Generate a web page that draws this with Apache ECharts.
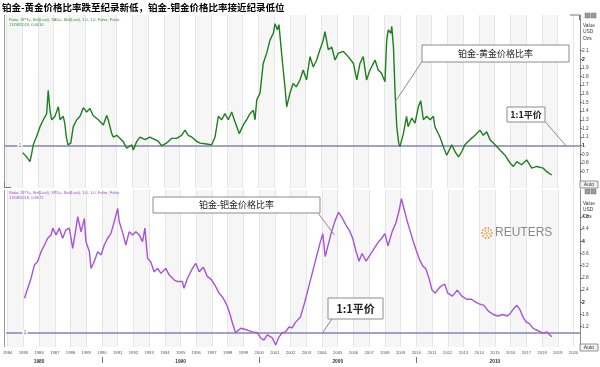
<!DOCTYPE html>
<html><head><meta charset="utf-8">
<script src="https://cdn.jsdelivr.net/npm/echarts@6/dist/echarts.min.js"></script>
<style>html,body{margin:0;padding:0;background:#fff}#c{width:600px;height:367px}</style>
</head><body><div id="c"></div>
<script>
// ---------- data ----------
const ptAuYears = [1985.03,1985.28,1985.49,1985.6,1985.7,1985.9,1986.13,1986.34,1986.55,1986.65,1986.76,1986.87,1987.08,1987.29,1987.4,1987.6,1987.7,1987.8,1987.9,1988.08,1988.24,1988.46,1988.67,1988.88,1989.09,1989.3,1989.5,1989.83,1990.15,1990.36,1990.46,1990.68,1990.78,1991.0,1991.2,1991.4,1991.63,1991.95,1992.05,1992.27,1992.48,1992.8,1993.1,1993.43,1993.64,1993.85,1994.17,1994.49,1994.8,1995.12,1995.33,1995.54,1995.76,1996.08,1996.29,1996.71,1997.03,1997.24,1997.45,1997.66,1997.87,1998.08,1998.3,1998.5,1998.78,1999.03,1999.25,1999.46,1999.67,1999.78,1999.89,2000.1,2000.3,2000.52,2000.73,2000.94,2001.05,2001.2,2001.3,2001.41,2001.57,2001.68,2001.79,2002.0,2002.2,2002.4,2002.63,2002.84,2003.05,2003.27,2003.48,2003.69,2003.9,2004.11,2004.22,2004.43,2004.65,2004.86,2005.07,2005.39,2005.7,2006.03,2006.24,2006.44,2006.65,2006.86,2007.08,2007.4,2007.6,2007.8,2008.03,2008.14,2008.24,2008.4,2008.46,2008.57,2008.67,2008.78,2008.9,2008.98,2009.2,2009.4,2009.5,2009.73,2009.94,2010.15,2010.3,2010.47,2010.68,2010.9,2011.1,2011.2,2011.52,2011.73,2011.95,2012.27,2012.48,2012.7,2012.9,2013.1,2013.43,2013.75,2014.06,2014.27,2014.49,2014.7,2015.02,2015.33,2015.65,2015.97,2016.18,2016.4,2016.7,2017.03,2017.35,2017.66,2018.08,2018.3,2018.62];
const ptAuValues = [0.92,0.87,0.815,0.91,1.01,1.10,1.22,1.30,1.37,1.64,1.41,1.30,1.34,1.45,1.30,1.34,1.26,1.10,1.01,1.03,1.22,1.30,1.34,1.44,1.39,1.43,1.35,1.30,1.24,1.35,1.30,1.14,1.10,1.12,1.085,1.05,0.97,1.01,0.95,1.05,1.10,1.07,1.10,1.07,1.05,1.00,1.03,1.085,1.085,1.12,1.18,1.12,1.10,1.05,1.03,1.02,1.01,1.10,1.34,1.30,1.37,1.30,1.39,1.28,1.14,1.24,1.30,1.37,1.41,1.30,1.53,1.61,1.95,2.07,2.22,2.30,2.41,2.34,2.40,2.18,1.875,1.68,1.45,1.61,1.72,1.68,1.76,1.875,1.76,2.03,1.91,1.99,2.11,2.22,2.32,2.11,2.14,1.99,2.07,2.09,2.03,1.95,1.76,1.95,2.03,1.76,1.875,1.99,1.875,1.84,1.74,2.22,2.34,2.30,2.38,2.14,1.62,1.22,1.03,0.99,1.14,1.34,1.22,1.32,1.26,1.45,1.52,1.30,1.34,1.30,1.34,1.22,1.10,0.99,0.89,1.01,0.93,0.87,0.93,1.01,1.07,1.12,1.18,1.12,1.16,1.07,1.01,0.95,0.89,0.80,0.76,0.815,0.78,0.835,0.74,0.76,0.74,0.70,0.6610];

const ptPdYears = [1985.07,1985.28,1985.49,1985.7,1985.9,1986.13,1986.34,1986.55,1986.76,1986.87,1987.08,1987.29,1987.5,1987.7,1987.92,1988.14,1988.35,1988.46,1988.67,1988.88,1988.98,1989.2,1989.3,1989.5,1989.73,1989.94,1990.15,1990.36,1990.57,1990.78,1991.0,1991.1,1991.3,1991.52,1991.73,1991.95,1992.16,1992.37,1992.58,1992.73,1992.9,1993.1,1993.32,1993.54,1993.75,1994.06,1994.27,1994.6,1994.8,1995.12,1995.22,1995.44,1995.76,1995.97,1996.18,1996.45,1996.7,1996.95,1997.2,1997.45,1997.7,1997.95,1998.15,1998.3,1998.5,1998.83,1999.25,1999.57,1999.89,2000.1,2000.3,2000.52,2000.84,2001.05,2001.26,2001.47,2001.68,2001.9,2002.1,2002.32,2002.63,2002.9,2003.1,2003.35,2003.6,2003.85,2004.05,2004.2,2004.4,2004.6,2004.85,2005.05,2005.25,2005.5,2005.75,2005.95,2006.15,2006.35,2006.55,2006.8,2007.05,2007.3,2007.55,2007.8,2008.0,2008.2,2008.45,2008.7,2008.9,2009.05,2009.2,2009.4,2009.6,2009.8,2010.0,2010.2,2010.4,2010.6,2010.8,2011.0,2011.2,2011.5,2011.8,2012.0,2012.3,2012.6,2012.9,2013.2,2013.5,2013.8,2014.0,2014.3,2014.6,2014.9,2015.2,2015.5,2015.8,2016.0,2016.2,2016.4,2016.6,2016.8,2017.0,2017.2,2017.4,2017.6,2017.9,2018.1,2018.3,2018.45,2018.62];
const ptPdValues = [2.13,2.46,2.79,3.22,3.33,3.66,3.88,4.10,4.21,4.43,4.21,4.43,4.10,4.37,4.43,3.77,4.43,4.81,4.31,4.75,3.99,3.66,3.11,3.33,3.66,3.55,3.88,4.10,4.26,4.64,5.08,4.64,4.31,3.88,4.31,4.21,4.31,4.21,3.99,4.43,3.44,3.33,3.00,3.11,2.95,3.11,2.90,2.73,2.68,2.68,2.46,2.79,3.11,3.28,3.00,3.15,2.85,2.75,2.55,2.30,2.15,1.90,1.60,1.32,1.00,1.15,1.09,1.03,1.00,0.83,0.76,0.93,0.83,0.60,0.86,1.00,1.03,1.19,1.16,1.35,1.52,2.0,2.4,2.9,3.4,3.9,4.25,3.5,3.9,4.3,4.7,4.95,4.8,4.55,4.35,4.1,3.7,3.35,3.6,3.35,3.55,3.75,3.95,4.1,4.25,3.85,4.3,4.6,5.0,5.4,5.1,4.7,4.35,4.0,3.7,3.4,3.2,3.1,2.8,2.4,2.3,2.5,2.6,2.3,2.2,2.4,2.2,2.1,2.1,2.0,1.95,1.9,1.7,1.6,1.55,1.6,1.55,1.65,1.8,1.9,1.75,1.5,1.35,1.3,1.16,1.1,1.03,0.98,1.03,0.95,0.8672];

const yearTicks = [1984,1985,1986,1987,1988,1989,1990,1991,1992,1993,1994,1995,1996,1997,1998,1999,2000,2001,2002,2003,2004,2005,2006,2007,2008,2009,2010,2011,2012,2013,2014,2015,2016,2017,2018,2019,2020];
const decadeLabelPos = [1986, 1995, 2005, 2015];
const decadeNames = ['1980', '1990', '2000', '2010'];
const decadeTicks = [1990, 2000, 2010];
const topTicks = [0.7,0.8,0.9,1,1.1,1.2,1.3,1.4,1.5,1.6,1.7,1.8,1.9,2,2.1];
const bottomTicks = [1.2,1.6,2,2.4,2.8,3.2,3.6,4,4.4,4.8];
const parityLevel = 1;

// ---------- chart ----------
const X_MIN = 1983.905, X_MAX = 2020.413;
const CJK = '"Noto Sans CJK SC"';
const chart = echarts.init(document.getElementById('c'), null, {renderer: 'canvas'});

function pairs(xs, ys) { return xs.map((x, i) => [x, ys[i]]); }
function yLabelFmt(v) {
  const s = String(+v.toFixed(1));
  return Number.isInteger(+s) ? '{b|' + s + '}' : s;
}
function xAxisBase(gi) {
  return {
    gridIndex: gi, type: 'value', min: X_MIN, max: X_MAX,
    axisLine: {show: false},
    axisTick: {show: false, customValues: yearTicks},
    axisLabel: {show: false},
    splitLine: {show: true, lineStyle: {color: '#e6e6e6', width: 1}},
    splitArea: {show: true, areaStyle: {color: ['#f6f6f6', '#ffffff']}}
  };
}
function yAxisBase(gi, min, max, ticks) {
  return {
    gridIndex: gi, type: 'value', position: 'right', min: min, max: max,
    axisLine: {show: true, lineStyle: {color: '#8a8a8a', width: 1}},
    axisTick: {show: true, length: 2, customValues: ticks, lineStyle: {color: '#666'}},
    axisLabel: {customValues: ticks, fontSize: 4.8, color: '#444', margin: 2, fontFamily: 'Liberation Sans',
      formatter: yLabelFmt, rich: {b: {fontSize: 5, fontWeight: 'bold', color: '#222', fontFamily: 'Liberation Sans'}}},
    splitLine: {show: false}
  };
}
function lineMarks(lastVal, tagColor, labelX) {
  return {
    markLine: {
      silent: true, symbol: 'none', animation: false,
      data: [
        {yAxis: parityLevel, lineStyle: {color: '#8383b3', width: 1.5, type: 'solid'}, label: {show: false}},
        {yAxis: lastVal, lineStyle: {opacity: 0}, label: {show: true, position: 'end', distance: 1,
          formatter: lastVal.toFixed(4), backgroundColor: tagColor, color: '#fff', fontSize: 5,
          fontWeight: 'bold', padding: [1, 1.5], fontFamily: 'Liberation Sans'}}
      ]
    },
    markPoint: {
      silent: true, animation: false,
      data: [{coord: [labelX, parityLevel], symbol: 'rect', symbolSize: [5, 5], itemStyle: {color: '#fff'},
        label: {show: true, position: 'inside', formatter: '1', fontSize: 4.5, color: '#555'}}]
    }
  };
}

const option = {
  animation: false,
  backgroundColor: '#fff',
  grid: [
    {left: 5, width: 575, top: 15, height: 173},
    {left: 5, width: 575, top: 190, height: 157}
  ],
  xAxis: [
    xAxisBase(0),
    Object.assign(xAxisBase(1), {
      axisLabel: {show: true, customValues: yearTicks, fontSize: 4.2, color: '#555', margin: 4,
        fontFamily: 'Liberation Sans', formatter: v => String(Math.round(v))}
    }),
    {
      gridIndex: 1, type: 'value', min: X_MIN, max: X_MAX, position: 'bottom', offset: 10,
      axisLine: {show: false},
      axisTick: {show: true, customValues: decadeTicks, length: 6, lineStyle: {color: '#777'}},
      axisLabel: {show: true, customValues: decadeLabelPos, margin: 2, fontSize: 4.8, fontWeight: 'bold', color: '#333',
        fontFamily: 'Liberation Sans', formatter: v => decadeNames[decadeLabelPos.indexOf(v)] || ''},
      splitLine: {show: false}
    }
  ],
  yAxis: [
    yAxisBase(0, 0.511, 2.511, topTicks),
    yAxisBase(1, 0.534, 5.682, bottomTicks)
  ],
  series: [
    Object.assign({
      type: 'line', xAxisIndex: 0, yAxisIndex: 0, showSymbol: false, data: pairs(ptAuYears, ptAuValues),
      lineStyle: {color: '#1d7f1d', width: 1.4}, itemStyle: {color: '#1d7f1d'}, z: 5
    }, lineMarks(ptAuValues[ptAuValues.length - 1], '#2e9a2e', 1984.86)),
    Object.assign({
      type: 'line', xAxisIndex: 1, yAxisIndex: 1, showSymbol: false, data: pairs(ptPdYears, ptPdValues),
      lineStyle: {color: '#a653d8', width: 1.4}, itemStyle: {color: '#a653d8'}, z: 5
    }, lineMarks(ptPdValues[ptPdValues.length - 1], '#9a24d6', 1985.1))
  ]
};
chart.setOption(option);

// ---------- annotations ----------
const p = (gi, x, y) => chart.convertToPixel({gridIndex: gi}, [x, y]);
const leadTop = p(0, 2008.67, 1.505);
const leadTopParity = p(0, 2019.52, parityLevel);
const leadBot = p(1, 2004.8, 4.2);
const leadBotParity = p(1, 2004.03, parityLevel);

function box(x, y, w, h, text, font) {
  return [
    {type: 'rect', shape: {x: x, y: y, width: w, height: h}, style: {fill: '#fff', stroke: '#8c8c8c', lineWidth: 1}, z: 20},
    {type: 'text', x: x + w / 2, y: y + h / 2, style: {text: text, font: font, fill: '#222', align: 'center', verticalAlign: 'middle'}, z: 21}
  ];
}
function leader(x1, y1, pt) {
  return {type: 'line', shape: {x1: x1, y1: y1, x2: pt[0], y2: pt[1]}, style: {stroke: '#8c8c8c', lineWidth: 1}, z: 19};
}
function autoBtn(y) {
  return [
    {type: 'rect', shape: {x: 580, y: y, width: 18, height: 7}, style: {fill: '#f2f2f2', stroke: '#777', lineWidth: 0.8}, z: 20},
    {type: 'text', x: 589, y: y + 3.5, style: {text: 'Auto', font: '5px "Liberation Sans"', fill: '#333', align: 'center', verticalAlign: 'middle'}, z: 21}
  ];
}
function icons(y) {
  return [
    {type: 'rect', shape: {x: 585, y: y, width: 5, height: 5}, style: {fill: '#9a9a9a', stroke: '#777', lineWidth: 0.5}, z: 20},
    {type: 'rect', shape: {x: 591, y: y, width: 5, height: 5}, style: {fill: '#9a9a9a', stroke: '#777', lineWidth: 0.5}, z: 20}
  ];
}
const g = [];
g.push({type: 'text', left: 2, top: 3, style: {text: '铂金-黄金价格比率跌至纪录新低，铂金-钯金价格比率接近纪录低位', font: 'bold 9.5px ' + CJK, fill: '#000'}, z: 30});
g.push({type: 'text', x: 9, y: 17, style: {text: 'Ratio, XPT=, Bid(Last), XAU=, Bid(Last), 1.0, 1.0, False, False\n17/08/2018, 0.6610', font: '4px "Liberation Sans"', fill: '#3a8a3a', lineHeight: 5.5}, z: 30});
g.push({type: 'text', x: 9, y: 190, style: {text: 'Ratio, XPT=, Bid(Last), XPD=, Bid(Last), 1.0, 1.0, False, False\n17/08/2018, 0.8672', font: '4px "Liberation Sans"', fill: '#9a4fc8', lineHeight: 5.5}, z: 30});
g.push({type: 'text', x: 583, y: 22, style: {text: 'Value\nUSD\nOzs', font: '4.8px "Liberation Sans"', fill: '#333', lineHeight: 6.5}, z: 30});
g.push({type: 'text', x: 583, y: 200, style: {text: 'Value\nUSD\nOzs', font: '4.8px "Liberation Sans"', fill: '#333', lineHeight: 6.5}, z: 30});
g.push(...icons(13), ...icons(189), ...autoBtn(181), ...autoBtn(344));
// panel edges
g.push({type: 'line', shape: {x1: 4.5, y1: 15, x2: 4.5, y2: 188}, style: {stroke: '#9a9a9a', lineWidth: 1}, z: 18});
g.push({type: 'line', shape: {x1: 4.5, y1: 190, x2: 4.5, y2: 347}, style: {stroke: '#9a9a9a', lineWidth: 1}, z: 18});
g.push({type: 'polyline', shape: {points: [[570, 15], [579.5, 15], [579.5, 20]]}, style: {stroke: '#777', fill: null, lineWidth: 1}, z: 18});
g.push({type: 'polyline', shape: {points: [[4.5, 182], [4.5, 187.5], [11, 187.5]]}, style: {stroke: '#777', fill: null, lineWidth: 1}, z: 18});
// callouts
g.push(leader(422, 61.5, leadTop), ...box(422, 45, 147, 17, '铂金-黄金价格比率', '9px ' + CJK));
g.push(leader(545, 121.5, leadTopParity), ...box(507, 107, 38, 15, '1:1平价', 'bold 9px ' + CJK));
g.push(leader(318, 213, leadBot), ...box(153, 197, 167, 16, '铂金-钯金价格比率', '9px ' + CJK));
g.push(leader(332, 319, leadBotParity), ...box(328, 298, 55, 21, '1:1平价', 'bold 11px ' + CJK));
// Reuters logo
const cx = 487, cy = 233;
for (let i = 0; i < 10; i++) {
  const a = i / 10 * Math.PI * 2;
  g.push({type: 'circle', shape: {cx: cx + 5 * Math.cos(a), cy: cy + 5 * Math.sin(a), r: 0.9}, style: {fill: '#f28c28'}, z: 25});
}
for (let i = 0; i < 5; i++) {
  const a = i / 5 * Math.PI * 2 + 0.3;
  g.push({type: 'circle', shape: {cx: cx + 2.5 * Math.cos(a), cy: cy + 2.5 * Math.sin(a), r: 0.8}, style: {fill: '#f28c28'}, z: 25});
}
g.push({type: 'circle', shape: {cx: cx, cy: cy, r: 0.8}, style: {fill: '#f28c28'}, z: 25});
g.push({type: 'text', x: 495, y: 233, style: {text: 'REUTERS', font: '12px "Liberation Sans"', fill: '#8a8a8a', verticalAlign: 'middle'}, z: 25});
chart.setOption({graphic: g});
</script></body></html>
